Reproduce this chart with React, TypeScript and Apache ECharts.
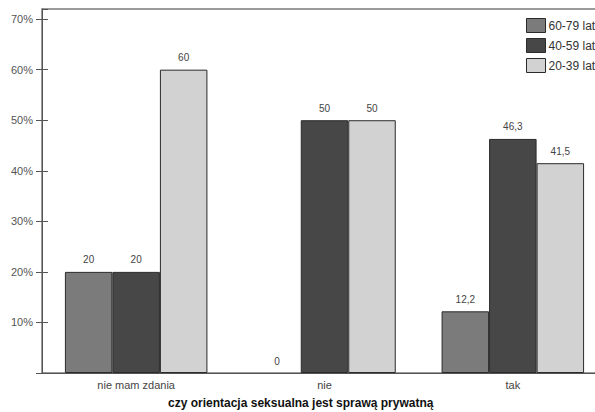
import React, { useEffect, useRef } from "react";
import * as echarts from "echarts";

const categories = ["nie mam zdania", "nie", "tak"];
const seriesNames = ["60-79 lat", "40-59 lat", "20-39 lat"];
const values6079 = [20, 0, 12.2];
const values4059 = [20, 50, 46.3];
const values2039 = [60, 50, 41.5];
const yTicks = [0, 10, 20, 30, 40, 50, 60, 70];
const xTitle = "czy orientacja seksualna jest sprawą prywatną";

const colors = ["#7b7b7b", "#474747", "#d2d2d2"];

export default function App() {
  const ref = useRef<HTMLDivElement>(null);
  useEffect(() => {
    if (!ref.current) return;
    const chart = echarts.init(ref.current, null, { renderer: "svg" });
    const mk = (name: string, data: number[], color: string) => ({
      name,
      type: "bar",
      data: data.map((v) =>
        v === 0 ? { value: v, itemStyle: { borderWidth: 0 } } : { value: v }
      ),
      barWidth: 47.5,
      barGap: "0%",
      itemStyle: { color, borderColor: "#2a2a2a", borderWidth: 1 },
      label: {
        show: true,
        position: "top",
        distance: 7,
        fontSize: 10,
        color: "#444",
        fontFamily: "Liberation Sans, Arial, sans-serif",
        formatter: (p: any) => String(p.value).replace(".", ","),
      },
    });
    chart.setOption({
      animation: false,
      backgroundColor: "#ffffff",
      textStyle: { fontFamily: "Liberation Sans, Arial, sans-serif" },
      grid: {
        left: 42,
        top: 9,
        right: 13,
        bottom: 39,
        show: true,
        borderColor: "#7a7a7a",
        borderWidth: 1.5,
        containLabel: false,
      },
      legend: {
        orient: "vertical",
        left: 521,
        top: 13,
        itemWidth: 19,
        itemHeight: 14,
        itemGap: 5,
        icon: "rect",
        data: seriesNames.map((n) => ({ name: n, itemStyle: { borderColor: "#2a2a2a", borderWidth: 1 } })),
        textStyle: { fontSize: 12, color: "#333", padding: [0, 0, 0, -2] },
      },
      xAxis: {
        type: "category",
        data: categories,
        axisLine: { lineStyle: { color: "#555", width: 1 } },
        axisTick: { show: false },
        axisLabel: { fontSize: 11, color: "#444", margin: 6 },
        splitLine: { show: false },
      },
      yAxis: [
        {
          type: "value",
          min: 0,
          max: 72,
          interval: 10,
          axisLine: { show: true, lineStyle: { color: "#555", width: 1 } },
          axisTick: { show: true, length: 6, lineStyle: { color: "#555" } },
          axisLabel: {
            fontSize: 11,
            color: "#555",
            margin: 9,
            showMaxLabel: false,
            formatter: (v: number) => (v === 0 || !yTicks.includes(v) ? "" : v + "%"),
          },
          splitLine: { show: false },
        },
        {
          type: "value",
          position: "left",
          min: 0,
          max: 72,
          interval: 10,
          axisLine: { show: false },
          axisTick: { show: true, inside: true, length: 6, lineStyle: { color: "#555" } },
          axisLabel: { show: false },
          splitLine: { show: false },
        },
      ],
      graphic: [
        {
          type: "text",
          left: 318 - 150,
          top: 397,
          style: {
            text: xTitle,
            width: 300,
            align: "center",
            x: 150,
            fontSize: 12,
            fontWeight: "bold",
            fill: "#111",
            fontFamily: "Liberation Sans, Arial, sans-serif",
          },
        },
      ],
      series: [
        mk(seriesNames[0], values6079, colors[0]),
        mk(seriesNames[1], values4059, colors[1]),
        mk(seriesNames[2], values2039, colors[2]),
      ],
    });
    return () => chart.dispose();
  }, []);
  return (
    <div
      style={{ position: "fixed", left: 0, top: 0, width: 595, height: 412, overflow: "hidden", background: "#fff" }}
    >
      <div ref={ref} style={{ width: 620, height: 412 }} />
    </div>
  );
}
